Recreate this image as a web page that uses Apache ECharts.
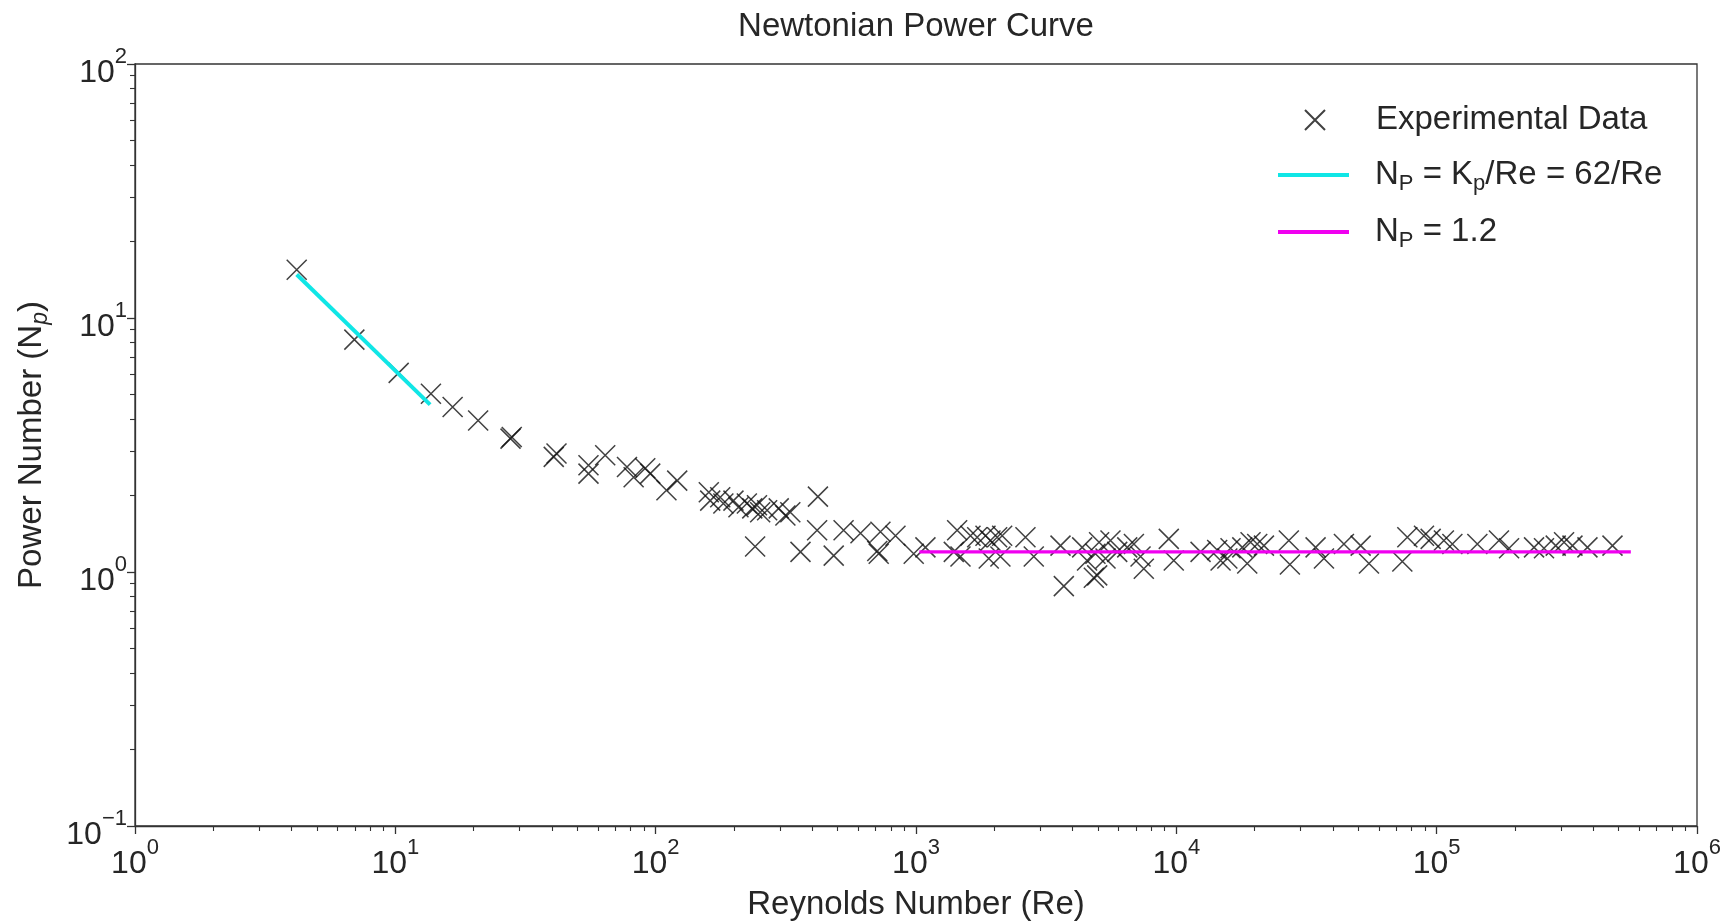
<!DOCTYPE html>
<html>
<head>
<meta charset="utf-8">
<title>Newtonian Power Curve</title>
<script src="https://cdn.jsdelivr.net/npm/echarts@6/dist/echarts.min.js"></script>
<style>
  html, body { margin: 0; padding: 0; background: #fff; }
  #chart { width: 1731px; height: 923px; }
</style>
</head>
<body>
<div id="chart"></div>
<script>
// experimental points
const reynolds = [
  4.18, 6.96, 10.3, 13.7, 16.6, 20.8, 27.7, 28.0, 40.6, 41.6,
  55.2, 55.2, 64.0, 77.6, 82.3, 91.2, 95.3, 110, 121,
  160, 162, 177, 182, 199, 208, 224, 235, 245, 252, 268, 297, 315, 329,
  241, 420, 417, 360, 527, 483, 612, 730, 719, 710, 834, 980, 1087,
  1439, 1397, 1482, 1619, 1718, 1849, 1932, 2050, 2143, 1903, 2110,
  2633, 2834, 3590, 3697, 4348, 4540, 4890, 4820, 4966, 5050,
  5585, 5346, 5928, 6478, 6871, 7286, 7500, 9355, 9775,
  12390, 14350, 14790, 15700, 16150, 17920, 19280, 18720, 20450, 21700,
  27300, 27050, 34270, 36900, 44030, 51050, 54950, 73800, 77150,
  89380, 94830, 106600, 114900, 143300, 173500, 189700, 236600, 258400,
  286600, 308500, 332400, 379500, 473500
];
const powerNumber = [
  15.5, 8.22, 6.08, 5.03, 4.46, 3.95, 3.35, 3.40, 2.84, 2.93,
  2.63, 2.44, 2.88, 2.59, 2.36, 2.56, 2.44, 2.10, 2.29,
  2.06, 1.91, 1.97, 1.86, 1.91, 1.80, 1.86, 1.78, 1.83, 1.72, 1.75, 1.78, 1.67, 1.72,
  1.26, 1.98, 1.46, 1.20, 1.46, 1.16, 1.42, 1.44, 1.18, 1.21, 1.39, 1.18, 1.25,
  1.46, 1.20, 1.15, 1.39, 1.37, 1.39, 1.33, 1.37, 1.39, 1.13, 1.15,
  1.37, 1.15, 1.27, 0.88, 1.25, 1.11, 1.18, 0.95, 0.97, 1.31,
  1.33, 1.13, 1.20, 1.25, 1.29, 1.15, 1.03, 1.35, 1.11,
  1.20, 1.22, 1.11, 1.13, 1.24, 1.25, 1.31, 1.08, 1.29, 1.27,
  1.07, 1.33, 1.25, 1.13, 1.29, 1.27, 1.08, 1.10, 1.37,
  1.39, 1.35, 1.33, 1.29, 1.29, 1.33, 1.24, 1.25, 1.24,
  1.27, 1.31, 1.27, 1.25, 1.27
];

// fitted lines
const laminarRe = [4.18, 13.6];
const laminarNp = [14.83, 4.56];
const turbulentRe = [1030, 557000];
const turbulentNp = [1.2, 1.2];

// ticks
const xMajorTicks = [1, 10, 100, 1000, 10000, 100000, 1000000];
const yMajorTicks = [0.1, 1, 10, 100];
const minorSteps = [2, 3, 4, 5, 6, 7, 8, 9];
const xMinorTicks = [];
xMajorTicks.slice(0, -1).forEach(d => minorSteps.forEach(s => xMinorTicks.push(d * s)));
const yMinorTicks = [];
yMajorTicks.slice(0, -1).forEach(d => minorSteps.forEach(s => yMinorTicks.push(d * s)));

const FONT = '"Liberation Sans", Arial, sans-serif';
const TEXT = '#262626';
const AXIS = '#333333';
const CYAN = '#10e6e6';
const MAGENTA = '#f000f0';
const xMark = 'path://M0,0L10,10M10,0L0,10';

const powLabel = (v) => {
  const e = Math.round(Math.log10(v));
  return '{b|10}{e|' + (e < 0 ? '\u2212' + (-e) : e) + '}';
};
const powRich = {
  b: { fontSize: 32, lineHeight: 34, verticalAlign: 'bottom', color: TEXT, fontFamily: FONT },
  e: { fontSize: 22, lineHeight: 23, verticalAlign: 'bottom', padding: [0, 0, 21, 0], color: TEXT, fontFamily: FONT }
};
const legendRich = {
  t: { fontSize: 33, lineHeight: 40, color: TEXT, fontFamily: FONT },
  s: { fontSize: 22, lineHeight: 27, verticalAlign: 'bottom', color: TEXT, fontFamily: FONT }
};

const legendNames = {
  'Experimental Data': '{t|Experimental Data}',
  'NP = Kp/Re = 62/Re': '{t|N}{s|P}{t| = K}{s|p}{t|/Re = 62/Re}',
  'NP = 1.2': '{t|N}{s|P}{t| = 1.2}'
};
const makeLegend = (item, left, top, itemWidth, itemHeight, gap) => ({
  data: [item],
  left: left,
  top: top,
  padding: 0,
  itemWidth: itemWidth,
  itemHeight: itemHeight,
  selectedMode: false,
  formatter: (n) => legendNames[n],
  textStyle: {
    fontSize: 33, lineHeight: 40, color: TEXT, fontFamily: FONT,
    padding: [0, 0, 0, gap], rich: legendRich
  }
});

const chart = echarts.init(document.getElementById('chart'));
chart.setOption({
  animation: false,
  backgroundColor: '#fff',
  title: {
    text: 'Newtonian Power Curve',
    left: 916,
    textAlign: 'center',
    top: 10,
    padding: 0,
    textStyle: { fontSize: 33, fontWeight: 'normal', color: TEXT, fontFamily: FONT }
  },
  legend: [
    makeLegend({ name: 'Experimental Data' }, 1304, 100, 20, 20, 46),
    makeLegend({ name: 'NP = Kp/Re = 62/Re', icon: 'rect' }, 1278, 155, 71, 4, 21),
    makeLegend({ name: 'NP = 1.2', icon: 'rect' }, 1278, 212, 71, 4, 21)
  ],
  grid: {
    left: 135, right: 34, top: 64, bottom: 97,
    outerBoundsMode: 'none',
    containLabel: false,
    show: true, borderColor: AXIS, borderWidth: 1.3
  },
  xAxis: [
    {
      type: 'log', min: 1, max: 1000000,
      name: 'Reynolds Number (Re)',
      nameLocation: 'middle', nameGap: 62,
      nameTextStyle: { fontSize: 33, color: TEXT, fontFamily: FONT },
      axisLine: { lineStyle: { color: AXIS, width: 1.3 } },
      axisTick: { customValues: xMajorTicks, length: 8, lineStyle: { color: AXIS, width: 1.3 } },
      axisLabel: { customValues: xMajorTicks, margin: 20, formatter: powLabel, rich: powRich },
      splitLine: { show: false }
    },
    {
      type: 'log', min: 1, max: 1000000, position: 'bottom',
      axisLine: { show: false },
      axisTick: { customValues: xMinorTicks, length: 5, lineStyle: { color: AXIS, width: 1.1 } },
      axisLabel: { show: false },
      splitLine: { show: false }
    }
  ],
  yAxis: [
    {
      type: 'log', min: 0.1, max: 100,
      name: 'Power Number (N{s|p})',
      nameLocation: 'middle', nameGap: 83,
      nameTextStyle: {
        fontSize: 33, lineHeight: 40, color: TEXT, fontFamily: FONT,
        rich: { s: { fontSize: 23, lineHeight: 28, fontStyle: 'italic', verticalAlign: 'bottom', color: TEXT, fontFamily: FONT } }
      },
      axisLine: { show: true, lineStyle: { color: AXIS, width: 1.3 } },
      axisTick: { show: true, customValues: yMajorTicks, length: 8, lineStyle: { color: AXIS, width: 1.3 } },
      axisLabel: { customValues: yMajorTicks, margin: 8, padding: [16, 0, 0, 0], formatter: powLabel, rich: powRich },
      splitLine: { show: false }
    },
    {
      type: 'log', min: 0.1, max: 100, position: 'left',
      axisLine: { show: false },
      axisTick: { show: true, customValues: yMinorTicks, length: 5, lineStyle: { color: AXIS, width: 1.1 } },
      axisLabel: { show: false },
      splitLine: { show: false }
    }
  ],
  series: [
    {
      name: 'Experimental Data',
      type: 'scatter',
      symbol: xMark,
      symbolSize: 20,
      symbolKeepAspect: true,
      itemStyle: { color: 'rgba(0,0,0,0)', borderColor: '#111', borderWidth: 1.5 },
      data: reynolds.map((r, i) => [r, powerNumber[i]]),
      z: 2
    },
    {
      name: 'NP = Kp/Re = 62/Re',
      type: 'line',
      symbol: 'none',
      lineStyle: { color: CYAN, width: 4 },
      itemStyle: { color: CYAN },
      data: laminarRe.map((r, i) => [r, laminarNp[i]]),
      z: 3
    },
    {
      name: 'NP = 1.2',
      type: 'line',
      symbol: 'none',
      lineStyle: { color: MAGENTA, width: 3.3 },
      itemStyle: { color: MAGENTA },
      data: turbulentRe.map((r, i) => [r, turbulentNp[i]]),
      z: 3
    }
  ]
});
</script>
</body>
</html>
